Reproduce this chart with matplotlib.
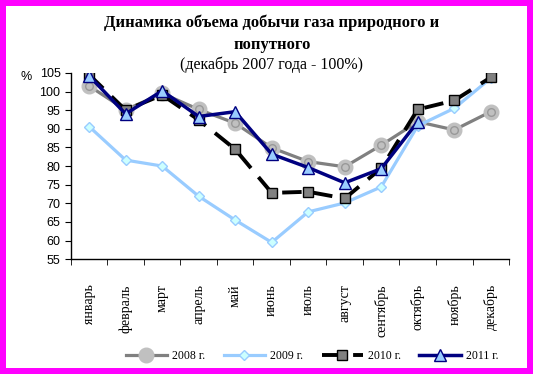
import numpy as np
import matplotlib
matplotlib.use('Agg')
from matplotlib import pyplot as plt
from matplotlib.ticker import FixedLocator, NullFormatter

months = ['январь', 'февраль', 'март', 'апрель', 'май', 'июнь',
          'июль', 'август', 'сентябрь', 'октябрь', 'ноябрь', 'декабрь']
y2008 = [101.5, 95.1, 99.5, 95.2, 91.5, 84.9, 81.2, 79.8, 85.6, 91.9, 89.7, 94.6]
y2009 = [90.6, 81.6, 80.0, 71.9, 65.5, 59.5, 67.7, 70.1, 74.4, 90.8, 95.5, 103.6]
y2010 = [104.5, 95.0, 99.1, 92.4, 84.5, 72.8, 73.1, 71.3, 79.4, 95.2, 97.6, 103.8]
y2011 = [104.2, 94.0, 100.2, 93.3, 94.6, 83.2, 79.6, 75.5, 79.3, 91.9]

serif = 'Liberation Serif'
sans = 'Liberation Sans'

fig = plt.figure(figsize=(5.33, 3.74), dpi=100, facecolor='white',
                 edgecolor='#ff00ff', linewidth=7.5)
ax = fig.add_axes([0.133, 0.307, 0.822, 0.498])

x = np.arange(len(months))

# 2008 - gray line with big light circles
ax.plot(x, y2008, color='#808080', lw=2.3, marker='o', ms=10.5,
        mfc='#c0c0c0', mec='#c0c0c0', zorder=2, label='2008 г.')
ax.plot(x, y2008, ls='none', marker='o', ms=5.5, mfc='none', mec='#999999',
        mew=1, zorder=2)
# 2009
ax.plot(x, y2009, color='#99ccff', lw=2.3, marker='D', ms=5,
        mfc='#ccffff', mec='#99ccff', zorder=3, label='2009 г.')
# 2010 - black dashed
ax.plot(x, y2010, color='black', lw=2.8, dashes=[5, 3], marker='s', ms=6.5,
        mfc='#808080', mec='black', mew=1, zorder=4, label='2010 г.')
# 2011
ax.plot(np.arange(len(y2011)), y2011, color='#000080', lw=2.5, marker='^',
        ms=8, mfc='#99ccff', mec='#000080', mew=1, zorder=5, label='2011 г.')

ax.set_xlim(-0.5, 11.5)
ax.set_ylim(55, 105)
ax.set_yticks(np.arange(55, 106, 5))
ax.tick_params(axis='y', labelsize=9, length=4, direction='out')
for lab in ax.get_yticklabels():
    lab.set_fontfamily(sans)

ax.set_xticks(x)
ax.set_xticklabels(months, rotation=90, fontsize=10, family=serif, va='top')
ax.tick_params(axis='x', which='major', length=0, pad=18)
ax.xaxis.set_minor_locator(FixedLocator(np.arange(-0.5, 12, 1)))
ax.xaxis.set_minor_formatter(NullFormatter())
ax.tick_params(axis='x', which='minor', length=4, direction='out')

for s in ['top', 'right']:
    ax.spines[s].set_visible(False)
ax.spines['left'].set_linewidth(1)
ax.spines['bottom'].set_linewidth(1)

fig.text(0.038, 0.795, '%', fontsize=9, family=sans, ha='left', va='center')

fig.text(0.51, 0.94, 'Динамика объема добычи газа природного и',
         ha='center', va='center', fontsize=12, fontweight='bold', family=serif)
fig.text(0.51, 0.88, 'попутного',
         ha='center', va='center', fontsize=12, fontweight='bold', family=serif)
fig.text(0.51, 0.828, '(декабрь 2007 года - 100%)',
         ha='center', va='center', fontsize=11.5, family=serif)

leg = fig.legend(loc='center', bbox_to_anchor=(0.585, 0.048), ncol=4,
                 frameon=False, prop={'family': serif, 'size': 8.5},
                 handlelength=3.5, columnspacing=1.6, handletextpad=0.4)

fig.savefig('out.png', dpi=100, facecolor=fig.get_facecolor(),
            edgecolor=fig.get_edgecolor())
